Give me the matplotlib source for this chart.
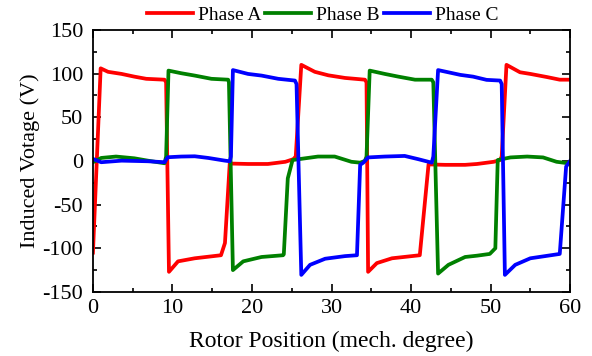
import matplotlib
matplotlib.use("Agg")
import matplotlib.pyplot as plt
from matplotlib.ticker import MultipleLocator

# back-EMF samples (rotor position in mech. degrees, voltage in V)
pos_a = [0.0, 0.97, 1.9, 3.6, 5.2, 6.7, 9.0, 9.2, 9.56, 10.7, 12.8, 16.1, 16.6, 17.2,
         19.5, 22.0, 24.2, 25.2, 25.5, 26.2, 27.9, 29.6, 31.7, 34.2, 34.4, 34.6, 35.7,
         37.6, 41.1, 42.2, 44.3, 46.8, 48.3, 50.4, 51.2, 51.4, 52.0, 53.7, 55.0, 57.1,
         58.7, 60.0]
emf_a = [-105, 106, 102, 99.6, 96.5, 94, 93, 90, -127, -115, -111.5, -108, -94, -3,
         -3.5, -3.5, -1, 2, 5, 110, 102, 98, 95, 93, 90, -127, -117,
         -111.5, -108, -4, -4.5, -4.5, -3.5, -1, 1, 5, 110, 101.5, 99.6, 96,
         93, 93]

pos_b = [0.0, 1.04, 2.9, 5.2, 6.9, 9.0, 9.2, 9.5, 11.1, 12.8, 14.9, 17.0, 17.1, 17.6,
         18.9, 21.2, 23.9, 24.0, 24.5, 25.1, 26.7, 28.3, 30.4, 32.5, 33.6, 34.2, 34.4,
         34.8, 36.7, 38.4, 40.5, 42.6, 42.8, 43.4, 44.7, 46.8, 48.3, 49.9, 50.6, 50.9,
         52.5, 54.6, 56.6, 58.3, 59.6, 60.0]
emf_b = [-1.5, 3.4, 5, 3, 0.3, -2.7, 5, 103.4, 100.4, 97.7, 94, 93, 90, -125,
         -115, -110, -108, -107, -20, 1, 3, 5, 5, -1, -2, 0, 5,
         103.4, 99.6, 96.5, 93, 93, 90, -129, -119, -110, -108.5, -106.5, -100, 1,
         4, 5, 4, -1, -2.5, -1]

pos_c = [0.0, 1.04, 3.6, 6.9, 9.0, 9.4, 11.1, 12.8, 14.5, 16.6, 17.2, 17.35, 17.6,
         19.5, 21.2, 23.3, 25.4, 25.6, 26.2, 27.3, 29.2, 31.7, 33.2, 33.6, 34.0, 34.6,
         36.7, 39.2, 40.9, 42.6, 42.8, 43.4, 46.2, 47.8, 49.5, 51.2, 51.4, 51.8, 53.1,
         55.0, 58.7, 59.5, 59.8, 60.0]
emf_c = [2.3, -1.5, 0.3, -0.4, -1.5, 4.2, 5, 5.3, 3.4, 0.3, -0.4, 5, 104,
         99.6, 97.7, 94, 92, 88, -130.5, -119, -112, -109, -108, -4.5, -2, 4,
         5, 5.7, 2, -2, 5, 104, 98.5, 96.5, 92.8, 92, 88, -130.5, -119,
         -111.5, -106.5, -6.5, -2.7, 0]

plt.rcParams['font.family'] = ['Liberation Serif', 'DejaVu Serif']
plt.rcParams['axes.unicode_minus'] = False

fig = plt.figure(figsize=(5.92, 3.56), dpi=100)
ax = fig.add_axes([0.157, 0.180, 0.806, 0.736])

lw = 2.7
ax.plot(pos_a, emf_a, color="#ff0000", lw=lw, label="Phase A")
ax.plot(pos_b, emf_b, color="#008000", lw=lw, label="Phase B")
ax.plot(pos_c, emf_c, color="#0000ff", lw=lw, label="Phase C")

ax.set_xlim(0, 60)
ax.set_ylim(-150, 150)
ax.xaxis.set_major_locator(MultipleLocator(10))
ax.xaxis.set_minor_locator(MultipleLocator(5))
ax.yaxis.set_major_locator(MultipleLocator(50))
ax.yaxis.set_minor_locator(MultipleLocator(25))
ax.tick_params(which="both", direction="in", top=True, right=True, width=1.2,
               labelsize=16)
ax.tick_params(which="major", length=6)
ax.tick_params(which="minor", length=3)
ax.tick_params(axis="x", which="major", pad=5)
ax.tick_params(axis="y", which="major", pad=7)
for s in ax.spines.values():
    s.set_linewidth(1.3)

ax.set_xlabel("Rotor Position (mech. degree)", fontsize=17, labelpad=9)
ax.set_ylabel("Induced Votage (V)", fontsize=16, labelpad=2)

fig.legend(loc="center", bbox_to_anchor=(0.545, 0.958), ncol=3, frameon=False,
           fontsize=14, handlelength=2.37, handletextpad=0.26, columnspacing=0.2,
           borderaxespad=0, borderpad=0)

fig.savefig("out.png", dpi=100)
